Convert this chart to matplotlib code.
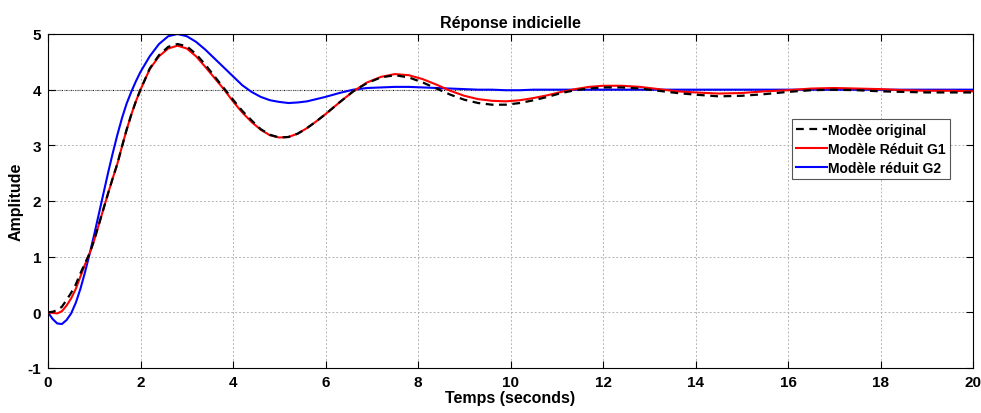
import numpy as np
import matplotlib
matplotlib.use("Agg")
import matplotlib.pyplot as plt

plt.rcParams['font.family'] = ['Liberation Sans', 'DejaVu Sans']
plt.rcParams['font.weight'] = 'bold'
plt.rcParams['axes.unicode_minus'] = False

# time samples (s)
t = [0, 0.1, 0.2, 0.3, 0.4, 0.5, 0.6, 0.7, 0.8, 0.9,
     1.0, 1.1, 1.2, 1.3, 1.4, 1.5, 1.6, 1.7, 1.8, 1.9,
     2.0, 2.2, 2.4, 2.6, 2.8, 3.0, 3.2, 3.4, 3.6, 3.8,
     4.0, 4.2, 4.4, 4.6, 4.8, 5.0, 5.2, 5.4, 5.6, 5.8,
     6.0, 6.3, 6.6, 6.9, 7.2, 7.5, 7.8, 8.1, 8.4, 8.7,
     9.0, 9.3, 9.6, 9.9, 10.2, 10.5, 10.8, 11.1, 11.4, 11.7,
     12.0, 12.4, 12.8, 13.2, 13.6, 14.0, 14.5, 15.0, 15.5, 16.0,
     16.5, 17.0, 17.5, 18.0, 18.5, 19.0, 19.5, 20.0]

# original model (black dashed)
y_orig = [0, 0.01, 0.04, 0.10, 0.22, 0.35, 0.50, 0.70, 0.88, 1.06,
          1.30, 1.58, 1.86, 2.14, 2.41, 2.67, 2.98, 3.28, 3.55, 3.79,
          4.00, 4.38, 4.62, 4.77, 4.82, 4.78, 4.64, 4.45, 4.24, 4.03,
          3.82, 3.62, 3.45, 3.29, 3.19, 3.14, 3.15, 3.21, 3.31, 3.43,
          3.56, 3.77, 3.97, 4.12, 4.22, 4.26, 4.22, 4.13, 4.02, 3.91,
          3.82, 3.76, 3.73, 3.73, 3.76, 3.81, 3.87, 3.94, 3.99, 4.02,
          4.04, 4.04, 4.02, 3.98, 3.94, 3.91, 3.88, 3.89, 3.92, 3.96,
          3.99, 4.00, 3.99, 3.97, 3.96, 3.95, 3.95, 3.95]

# reduced model G1 (red)
y_g1 = [0, -0.01, -0.02, 0.02, 0.12, 0.25, 0.42, 0.64, 0.86, 1.06,
        1.30, 1.58, 1.86, 2.14, 2.41, 2.67, 2.98, 3.28, 3.55, 3.79,
        4.00, 4.37, 4.60, 4.74, 4.79, 4.74, 4.60, 4.41, 4.21, 4.01,
        3.79, 3.59, 3.42, 3.28, 3.18, 3.14, 3.15, 3.21, 3.31, 3.43,
        3.56, 3.77, 3.97, 4.13, 4.23, 4.28, 4.26, 4.19, 4.09, 3.98,
        3.89, 3.83, 3.80, 3.79, 3.81, 3.85, 3.90, 3.96, 4.01, 4.05,
        4.07, 4.07, 4.05, 4.01, 3.97, 3.95, 3.93, 3.94, 3.97, 3.99,
        4.02, 4.03, 4.02, 4.01, 3.99, 3.98, 3.98, 3.97]

# reduced model G2 (blue)
y_g2 = [0, -0.12, -0.20, -0.21, -0.14, -0.02, 0.17, 0.42, 0.72, 1.05,
        1.40, 1.77, 2.14, 2.51, 2.86, 3.19, 3.49, 3.75, 3.96, 4.15,
        4.32, 4.60, 4.82, 4.96, 5.00, 4.96, 4.86, 4.72, 4.56, 4.40,
        4.24, 4.08, 3.96, 3.87, 3.81, 3.78, 3.76, 3.77, 3.79, 3.83,
        3.87, 3.94, 4.00, 4.03, 4.04, 4.05, 4.05, 4.04, 4.03, 4.02,
        4.01, 4.00, 4.00, 3.99, 3.99, 4.00, 4.00, 4.00, 4.00, 4.00,
        4.00, 4.00, 4.00, 4.00, 4.00, 4.00, 4.00, 4.00, 4.00, 4.00,
        4.00, 4.00, 4.00, 4.00, 4.00, 4.00, 4.00, 4.00]

fig = plt.figure(figsize=(9.81, 4.14), dpi=100)
ax = fig.add_axes([48/981, 1-369/414, 925/981, 334/414])

ax.grid(True, color='#b4b4b4', linestyle=(0, (2, 2)), linewidth=0.7)
ax.axhline(4, color='k', linestyle=(0, (1, 1)), linewidth=0.8, zorder=1.5)

ax.plot(t, y_orig, color='k', linestyle=(0, (3.5, 2.5)), linewidth=1.6, label='Modèe original', zorder=4)
ax.plot(t, y_g1, color='#ff0000', linewidth=1.5, label='Modèle Réduit G1', zorder=3)
ax.plot(t, y_g2, color='#0000ff', linewidth=1.5, label='Modèle réduit G2', zorder=2)

ax.set_xlim(0, 20)
ax.set_ylim(-1, 5)
ax.set_xticks(np.arange(0, 21, 2))
ax.set_yticks(np.arange(-1, 6, 1))
ax.tick_params(direction='in', length=5, width=0.8, top=True, right=True,
               labelsize=11, pad=5)
for s in ax.spines.values():
    s.set_linewidth(0.8)

ax.set_title('Réponse indicielle', fontsize=11.5, fontweight='bold', pad=5)
ax.set_xlabel('Temps (seconds)', fontsize=11.5, fontweight='bold', labelpad=1)
ax.set_ylabel('Amplitude', fontsize=11.5, fontweight='bold', labelpad=3)

leg = ax.legend(loc='upper right', bbox_to_anchor=(0.975, 0.745), fontsize=10,
                frameon=True, fancybox=False, edgecolor='#555555', framealpha=1,
                handlelength=2.2, handletextpad=0.1, borderpad=0.3,
                labelspacing=0.33, borderaxespad=0)
leg.get_frame().set_linewidth(0.8)

fig.savefig('out.png', dpi=100)
